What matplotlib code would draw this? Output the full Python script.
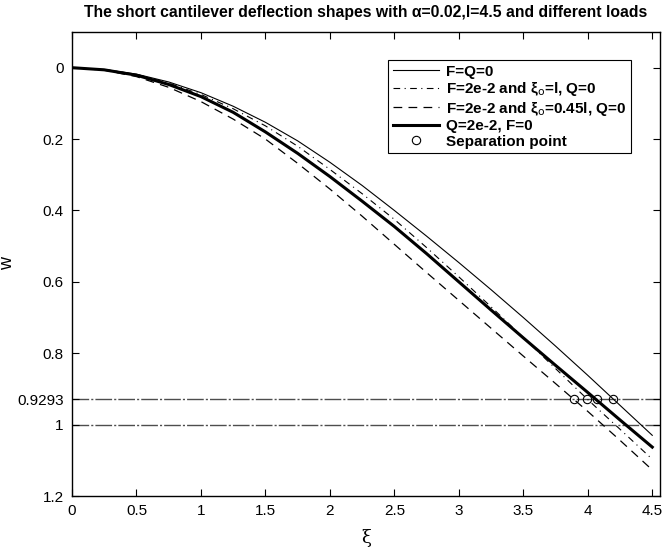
import matplotlib
matplotlib.use("Agg")
import matplotlib.pyplot as plt

plt.rcParams['font.family'] = ['Liberation Sans', 'DejaVu Sans']
plt.rcParams['mathtext.fontset'] = 'dejavusans'

xi = [0, 0.25, 0.5, 0.75, 1.0, 1.25, 1.5, 1.75, 2.0, 2.25, 2.5, 2.75, 3.0,
      3.25, 3.5, 3.75, 4.0, 4.25, 4.5]
w_free = [0, 0.005, 0.018, 0.040, 0.070, 0.108, 0.153, 0.205, 0.265, 0.330,
          0.400, 0.472, 0.546, 0.622, 0.700, 0.780, 0.862, 0.946, 1.030]
w_F_l = [0, 0.005, 0.019, 0.043, 0.075, 0.115, 0.163, 0.220, 0.285, 0.353,
         0.425, 0.504, 0.586, 0.670, 0.756, 0.843, 0.930, 1.013, 1.097]
w_F_045l = [0, 0.007, 0.025, 0.055, 0.095, 0.144, 0.200, 0.268, 0.340, 0.416,
            0.495, 0.574, 0.652, 0.730, 0.808, 0.885, 0.963, 1.044, 1.127]
w_Q = [0, 0.006, 0.021, 0.047, 0.081, 0.125, 0.180, 0.240, 0.305, 0.374,
       0.445, 0.521, 0.600, 0.679, 0.757, 0.834, 0.910, 0.987, 1.063]
sep_xi = [3.894, 3.994, 4.072, 4.196]
sep_w = [0.9293, 0.9293, 0.9293, 0.9293]
hlines = [0.9293, 1.0]

xticks = [0, 0.5, 1, 1.5, 2, 2.5, 3, 3.5, 4, 4.5]
xticklabels = ['0', '0.5', '1', '1.5', '2', '2.5', '3', '3.5', '4', '4.5']
yticks = [0, 0.2, 0.4, 0.6, 0.8, 0.9293, 1, 1.2]
yticklabels = ['0', '0.2', '0.4', '0.6', '0.8', '0.9293', '1', '1.2']

labels = ['F=Q=0',
          r'F=2e-2 and ξ$_{\mathrm{o}}$=l, Q=0',
          r'F=2e-2 and ξ$_{\mathrm{o}}$=0.45l, Q=0',
          'Q=2e-2, F=0',
          'Separation point']

fig = plt.figure(figsize=(6.65, 5.49), dpi=100)
ax = fig.add_axes([72/665, 1-496/549, 588/665, 464/549])

for h in hlines:
    ax.axhline(h, color='0.3', lw=1.0, linestyle=(0, (12, 1.5, 1.5, 1.5)), zorder=1)

ax.plot(xi, w_free, color='black', lw=0.8, label=labels[0])
ax.plot(xi, w_F_l, color='black', lw=0.8, linestyle=(0, (6, 4, 1, 4)), label=labels[1])
ax.plot(xi, w_F_045l, color='black', lw=0.9, linestyle=(0, (7, 5)), label=labels[2])
ax.plot(xi, w_Q, color='black', lw=2.2, label=labels[3])
ax.plot(sep_xi, sep_w, linestyle='none', marker='o', markersize=6,
        markerfacecolor='none', markeredgecolor='black', markeredgewidth=0.8,
        label=labels[4])

ax.set_xlim(0, 4.56)
ax.set_ylim(1.2, -0.1)
ax.set_xticks(xticks)
ax.set_xticklabels(xticklabels)
ax.set_yticks(yticks)
ax.set_yticklabels(yticklabels)
ax.tick_params(direction='in', top=True, right=True, length=5, width=0.8,
               labelsize=11, pad=6)
for s in ax.spines.values():
    s.set_linewidth(1.0)

ax.set_xlabel('ξ', fontsize=13, family=['DejaVu Serif'], labelpad=8)
ax.set_ylabel('w', fontsize=13)
ax.yaxis.set_label_coords(-0.096, 0.5)
ax.set_title('The short cantilever deflection shapes with α=0.02,l=4.5 and different loads',
             fontsize=11.3, fontweight='bold', pad=11)

leg = ax.legend(loc='upper right', bbox_to_anchor=(0.9507, 0.9397), borderaxespad=0,
                prop={'weight': 'bold', 'size': 11}, fancybox=False, framealpha=1,
                edgecolor='black', handlelength=3.0, handletextpad=0.5,
                labelspacing=0.1, borderpad=0.3)
leg.get_frame().set_linewidth(0.8)

fig.savefig('out.png', dpi=100)
